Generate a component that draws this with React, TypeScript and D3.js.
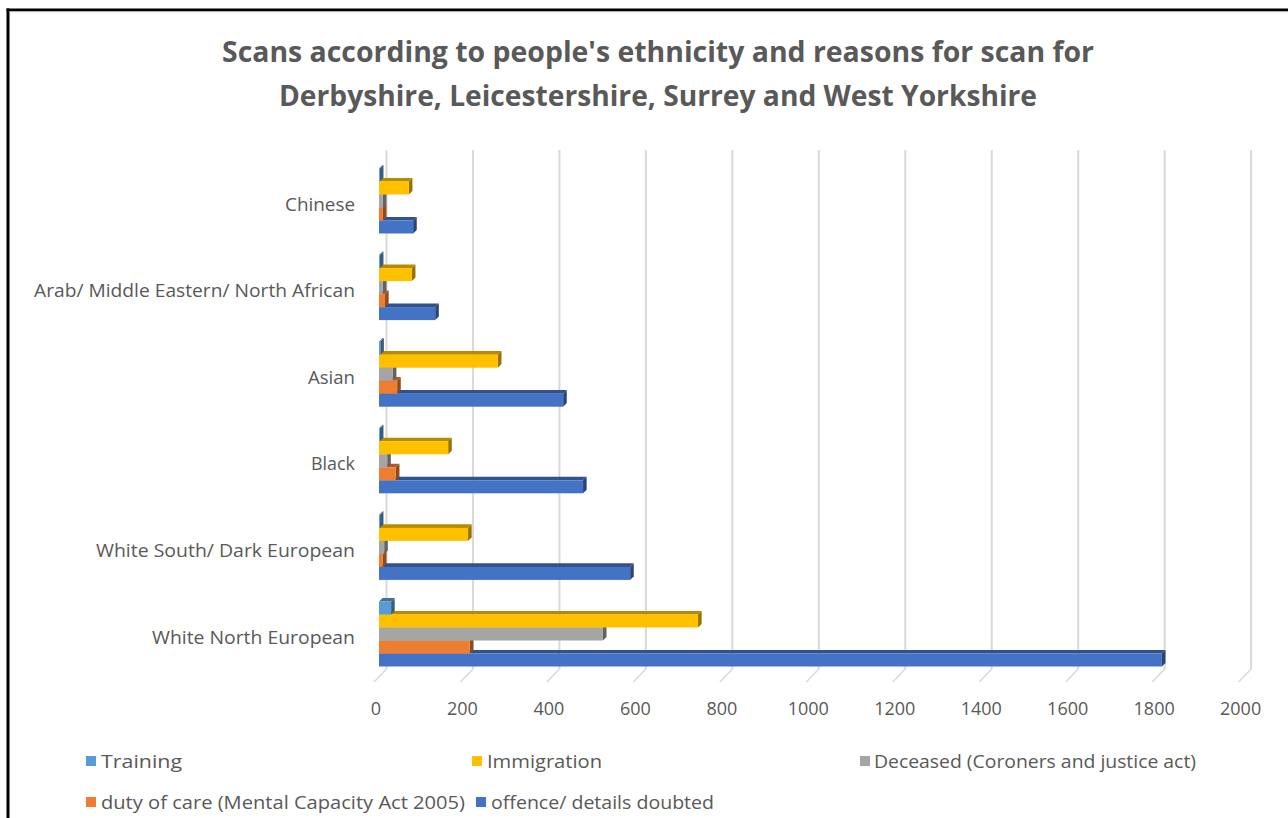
import React from "react";
import * as d3 from "d3";

const categories = [
  "Chinese",
  "Arab/ Middle Eastern/ North African",
  "Asian",
  "Black",
  "White South/ Dark European",
  "White North European",
];
const seriesNames = [
  "Training",
  "Immigration",
  "Deceased (Coroners and justice act)",
  "duty of care (Mental Capacity Act 2005)",
  "offence/ details doubted",
];
const training = [2, 2, 3, 2, 2, 28];
const immigration = [69, 76, 275, 160, 206, 738];
const deceased = [9, 9, 32, 19, 12, 518];
const dutyOfCare = [9, 14, 42, 39, 9, 210];
const offence = [79, 130, 426, 472, 581, 1811];
const tickValues = [0, 200, 400, 600, 800, 1000, 1200, 1400, 1600, 1800, 2000];
const seriesColors = ["#5b9bd5", "#ffc000", "#a5a5a5", "#ed7d31", "#4472c4"];

const FONT = "'Open Sans', 'Noto Sans', sans-serif";
const TXT = "#595959";

export default function App() {
  const seriesValues = [training, immigration, deceased, dutyOfCare, offence];
  const xFront = d3.scaleLinear().domain([0, 2000]).range([374, 1238.6]);
  const backDx = 12.5;
  const floorFrontY = 682;
  const floorBackY = 669;
  const gridTop = 150;
  const barOffset = 5;
  const depth = 3.6;

  const yCat = d3.scaleBand<string>().domain(categories).range([160.7, 680.3]);
  const ySer = d3.scaleBand<string>().domain(seriesNames).range([-35.5, 29.5]);

  const darken = (c: string, k: number) => {
    const col = d3.rgb(c);
    return d3.rgb(col.r * k, col.g * k, col.b * k).formatHex();
  };

  const legendItems = [
    { i: 0, x: 86, y: 761, tx: 101, tw: 81 },
    { i: 1, x: 472, y: 761, tx: 487, tw: 115 },
    { i: 2, x: 860, y: 761, tx: 874, tw: 322 },
    { i: 3, x: 86, y: 802, tx: 101, tw: 364 },
    { i: 4, x: 476, y: 802, tx: 491, tw: 223 },
  ];

  const catLabelWidths: Record<string, number> = {
    "Chinese": 70,
    "Arab/ Middle Eastern/ North African": 321,
    "Asian": 47,
    "Black": 44,
    "White South/ Dark European": 259,
    "White North European": 203,
  };

  const bars: JSX.Element[] = [];
  categories.forEach((cat, ci) => {
    const c = (yCat(cat) as number) + yCat.bandwidth() / 2;
    for (let si = seriesNames.length - 1; si >= 0; si--) {
      const v = seriesValues[si][ci];
      const x0 = xFront(0) + barOffset;
      const x1 = xFront(v) + barOffset;
      const yTop = c + (ySer(seriesNames[si]) as number);
      const h = ySer.bandwidth();
      const col = seriesColors[si];
      bars.push(
        <g key={`${ci}-${si}`}>
          <polygon
            points={`${x0},${yTop} ${x1},${yTop} ${x1 + depth},${yTop - depth} ${x0 + depth},${yTop - depth}`}
            fill={darken(col, 0.72)}
          />
          <polygon
            points={`${x1},${yTop} ${x1 + depth},${yTop - depth} ${x1 + depth},${yTop + h - depth} ${x1},${yTop + h}`}
            fill={darken(col, 0.6)}
          />
          <rect x={x0} y={yTop} width={Math.max(0, x1 - x0)} height={h} fill={col} />
        </g>
      );
    }
  });

  return (
    <svg
      width={1288}
      height={818}
      style={{ position: "absolute", left: 0, top: 0, background: "#fff" }}
    >
      <rect x={0} y={0} width={1288} height={818} fill="#fff" />
      {/* frame */}
      <line x1={6.5} y1={10} x2={1288} y2={10} stroke="#000" strokeWidth={3} />
      <line x1={8} y1={8.5} x2={8} y2={818} stroke="#000" strokeWidth={3} />
      <line x1={9.5} y1={12} x2={1288} y2={12} stroke="#e6e6e6" strokeWidth={1} />

      {/* title */}
      <text x={658} y={62} textAnchor="middle" fontFamily={FONT} fontWeight="bold" fontSize={28} fill={TXT} textLength={872} lengthAdjust="spacingAndGlyphs">
        Scans according to people's ethnicity and reasons for scan for
      </text>
      <text x={658} y={106} textAnchor="middle" fontFamily={FONT} fontWeight="bold" fontSize={28} fill={TXT} textLength={758} lengthAdjust="spacingAndGlyphs">
        Derbyshire, Leicestershire, Surrey and West Yorkshire
      </text>

      {/* gridlines */}
      {tickValues.map((t) => {
        const xf = xFront(t);
        const xb = xf + backDx;
        return (
          <g key={t}>
            <line x1={xb} y1={gridTop} x2={xb} y2={floorBackY} stroke="#d9d9d9" strokeWidth={2} />
            <line x1={xf} y1={floorFrontY} x2={xb} y2={floorBackY} stroke="#d9d9d9" strokeWidth={1.5} />
          </g>
        );
      })}

      {/* bars */}
      {bars}

      {/* category labels */}
      {categories.map((cat) => {
        const c = (yCat(cat) as number) + yCat.bandwidth() / 2;
        return (
          <text key={cat} x={355} y={c + 6.5} textAnchor="end" fontFamily={FONT} fontSize={19} fill={TXT} textLength={catLabelWidths[cat]} lengthAdjust="spacingAndGlyphs">
            {cat}
          </text>
        );
      })}

      {/* tick labels */}
      {tickValues.map((t) => (
        <text key={t} x={xFront(t) + 2} y={715} textAnchor="middle" fontFamily={FONT} fontSize={18} fill={TXT}>
          {t}
        </text>
      ))}

      {/* legend */}
      {legendItems.map((it) => (
        <g key={it.i}>
          <rect x={it.x} y={it.y - 5} width={10} height={10} fill={seriesColors[it.i]} />
          <text x={it.tx} y={it.y + 7} fontFamily={FONT} fontSize={18} fill={TXT} textLength={it.tw} lengthAdjust="spacingAndGlyphs">
            {seriesNames[it.i]}
          </text>
        </g>
      ))}
    </svg>
  );
}
